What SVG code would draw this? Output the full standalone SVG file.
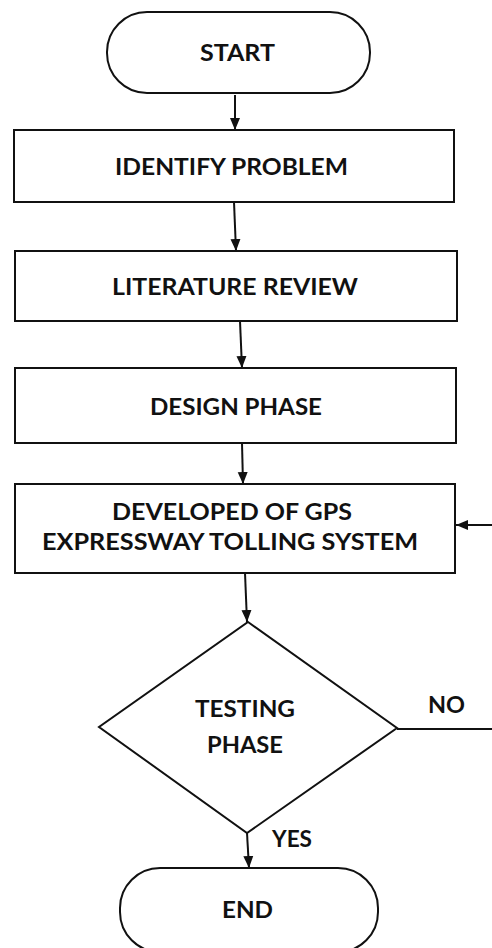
<svg xmlns="http://www.w3.org/2000/svg" width="492" height="948" viewBox="0 0 492 948">
  <style>
    .shape { fill: #ffffff; stroke: #111111; stroke-width: 2; }
    .link { fill: none; stroke: #111111; stroke-width: 2; }
    .label { font-family: "Lato", "Open Sans", "Liberation Sans", sans-serif; font-weight: bold; font-size: 22px; fill: #111111; }
  </style>
  <defs>
    <marker id="arrow" viewBox="0 0 12 12" refX="12" refY="6" markerWidth="12" markerHeight="12" markerUnits="userSpaceOnUse" orient="auto">
      <path d="M0,1 L12,6 L0,11 Z" fill="#111111"/>
    </marker>
  </defs>
  <rect width="492" height="948" fill="#ffffff"/>

  <!-- flow connectors -->
  <g id="connectors">
    <path class="link" d="M235,95 L235,130" marker-end="url(#arrow)"/>
    <path class="link" d="M234,202 L236,251" marker-end="url(#arrow)"/>
    <path class="link" d="M240,321 L242,368" marker-end="url(#arrow)"/>
    <path class="link" d="M242,443 L243,484" marker-end="url(#arrow)"/>
    <path class="link" d="M245,573 L247,622" marker-end="url(#arrow)"/>
    <path class="link" d="M247,833 L249,868" marker-end="url(#arrow)"/>
    <!-- NO branch loops back to development along the right edge -->
    <path class="link" d="M397,729 H500 V525 H456" marker-end="url(#arrow)"/>
    <text class="label" x="428" y="713" textLength="37" lengthAdjust="spacingAndGlyphs">NO</text>
    <text class="label" x="272" y="847" textLength="40" lengthAdjust="spacingAndGlyphs">YES</text>
  </g>

  <g id="start">
    <rect class="shape" x="107" y="12" width="263" height="81" rx="40" ry="40"/>
    <text class="label" x="237.5" y="61" text-anchor="middle" font-size="24" textLength="75" lengthAdjust="spacingAndGlyphs">START</text>
  </g>

  <g id="identify-problem">
    <rect class="shape" x="14" y="130" width="440" height="72"/>
    <text class="label" x="231.5" y="175" text-anchor="middle" textLength="233" lengthAdjust="spacingAndGlyphs">IDENTIFY PROBLEM</text>
  </g>

  <g id="literature-review">
    <rect class="shape" x="15" y="251" width="442" height="70"/>
    <text class="label" x="235" y="295" text-anchor="middle" textLength="246" lengthAdjust="spacingAndGlyphs">LITERATURE REVIEW</text>
  </g>

  <g id="design-phase">
    <rect class="shape" x="15" y="368" width="441" height="75"/>
    <text class="label" x="236" y="415" text-anchor="middle" textLength="172" lengthAdjust="spacingAndGlyphs">DESIGN PHASE</text>
  </g>

  <g id="development">
    <rect class="shape" x="15" y="484" width="440" height="89"/>
    <text class="label" x="232" y="520" text-anchor="middle" textLength="240" lengthAdjust="spacingAndGlyphs">DEVELOPED OF GPS</text>
    <text class="label" x="230" y="550" text-anchor="middle" textLength="376" lengthAdjust="spacingAndGlyphs">EXPRESSWAY TOLLING SYSTEM</text>
  </g>

  <g id="testing-phase">
    <polygon class="shape" points="248,622 397,728 247,833 99,727"/>
    <text class="label" x="245" y="717" text-anchor="middle" textLength="100" lengthAdjust="spacingAndGlyphs">TESTING</text>
    <text class="label" x="245" y="753" text-anchor="middle" textLength="76" lengthAdjust="spacingAndGlyphs">PHASE</text>
  </g>

  <g id="end">
    <rect class="shape" x="120" y="868" width="258" height="84" rx="40" ry="40"/>
    <text class="label" x="247.5" y="918" text-anchor="middle" textLength="51" lengthAdjust="spacingAndGlyphs">END</text>
  </g>
</svg>
